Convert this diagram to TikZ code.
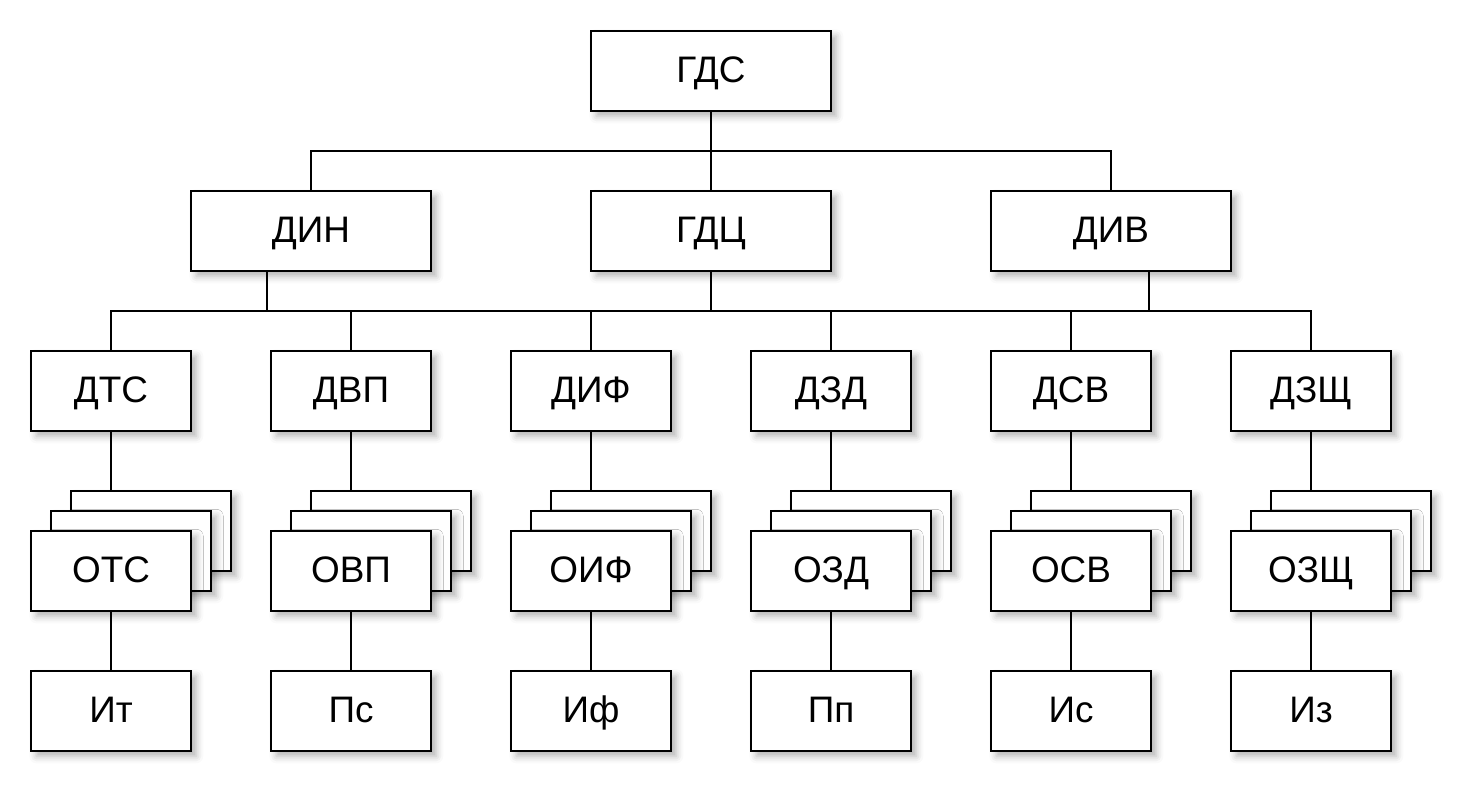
\documentclass[tikz,border=0pt]{standalone}
\usepackage{fontspec}
\setmainfont{Liberation Sans}
\usetikzlibrary{shadows.blur, calc}

\begin{document}
\begin{tikzpicture}[x=0.02cm, y=-0.02cm, line width=0.8pt,
  box/.style={draw, fill=white, minimum width=4.8cm, minimum height=1.6cm,
    inner sep=0pt, text height=15pt, text depth=2.4pt,
    font=\fontsize{21}{25}\selectfont,
    blur shadow={shadow xshift=3pt, shadow yshift=-3pt,
      shadow opacity=30, shadow blur radius=4pt}},
  smallbox/.style={box, minimum width=3.2cm}]
  \useasboundingbox (0,0) rectangle (1474,794);
  % --- verhnie urovni ---
  \node[box] (gds) at (711,71)  {ГДС};
  \node[box] (din) at (311,231) {ДИН};
  \node[box] (gdc) at (711,231) {ГДЦ};
  \node[box] (div) at (1111,231) {ДИВ};
  % --- direkcii ---
  \node[smallbox] (dts)  at (111,391)  {ДТС};
  \node[smallbox] (dvp)  at (351,391)  {ДВП};
  \node[smallbox] (dif)  at (591,391)  {ДИФ};
  \node[smallbox] (dzd)  at (831,391)  {ДЗД};
  \node[smallbox] (dsv)  at (1071,391) {ДСВ};
  \node[smallbox] (dzsh) at (1311,391) {ДЗЩ};
  % --- otdely (stopki iz treh) ---
  \node[smallbox] (otsc)  at (151,531)  {};
  \node[smallbox] (otsb)  at (131,551)  {};
  \node[smallbox] (ots)   at (111,571)  {ОТС};
  \node[smallbox] (ovpc)  at (391,531)  {};
  \node[smallbox] (ovpb)  at (371,551)  {};
  \node[smallbox] (ovp)   at (351,571)  {ОВП};
  \node[smallbox] (oifc)  at (631,531)  {};
  \node[smallbox] (oifb)  at (611,551)  {};
  \node[smallbox] (oif)   at (591,571)  {ОИФ};
  \node[smallbox] (ozdc)  at (871,531)  {};
  \node[smallbox] (ozdb)  at (851,551)  {};
  \node[smallbox] (ozd)   at (831,571)  {ОЗД};
  \node[smallbox] (osvc)  at (1111,531) {};
  \node[smallbox] (osvb)  at (1091,551) {};
  \node[smallbox] (osv)   at (1071,571) {ОСВ};
  \node[smallbox] (ozshc) at (1351,531) {};
  \node[smallbox] (ozshb) at (1331,551) {};
  \node[smallbox] (ozsh)  at (1311,571) {ОЗЩ};
  % --- nizhnij uroven ---
  \node[smallbox] (it) at (111,711)  {Ит};
  \node[smallbox] (ps) at (351,711)  {Пс};
  \node[smallbox] (ifn) at (591,711) {Иф};
  \node[smallbox] (pp) at (831,711)  {Пп};
  \node[smallbox] (is) at (1071,711) {Ис};
  \node[smallbox] (iz) at (1311,711) {Из};
  % --- svyazi ---
  \coordinate (bustop) at (711,151);
  \coordinate (busmid) at (711,311);
  \draw (gds.south) -- (gdc.north);
  \draw (din.north) |- (bustop) -| (div.north);
  \draw (dts.north) |- (busmid) -| (dzsh.north);
  \draw (gdc.south) -- (busmid);
  \draw ([xshift=-0.88cm]din.south) -- ([xshift=-0.88cm]din.south |- busmid);
  \draw ([xshift=0.76cm]div.south) -- ([xshift=0.76cm]div.south |- busmid);
  \draw (dvp.north) -- (dvp.north |- busmid);
  \draw (dif.north) -- (dif.north |- busmid);
  \draw (dzd.north) -- (dzd.north |- busmid);
  \draw (dsv.north) -- (dsv.north |- busmid);
  \draw (dts.south) -- (dts.south |- otsc.north);
  \draw (dvp.south) -- (dvp.south |- ovpc.north);
  \draw (dif.south) -- (dif.south |- oifc.north);
  \draw (dzd.south) -- (dzd.south |- ozdc.north);
  \draw (dsv.south) -- (dsv.south |- osvc.north);
  \draw (dzsh.south) -- (dzsh.south |- ozshc.north);
  \draw (ots.south) -- (it.north);
  \draw (ovp.south) -- (ps.north);
  \draw (oif.south) -- (ifn.north);
  \draw (ozd.south) -- (pp.north);
  \draw (osv.south) -- (is.north);
  \draw (ozsh.south) -- (iz.north);
\end{tikzpicture}
\end{document}
